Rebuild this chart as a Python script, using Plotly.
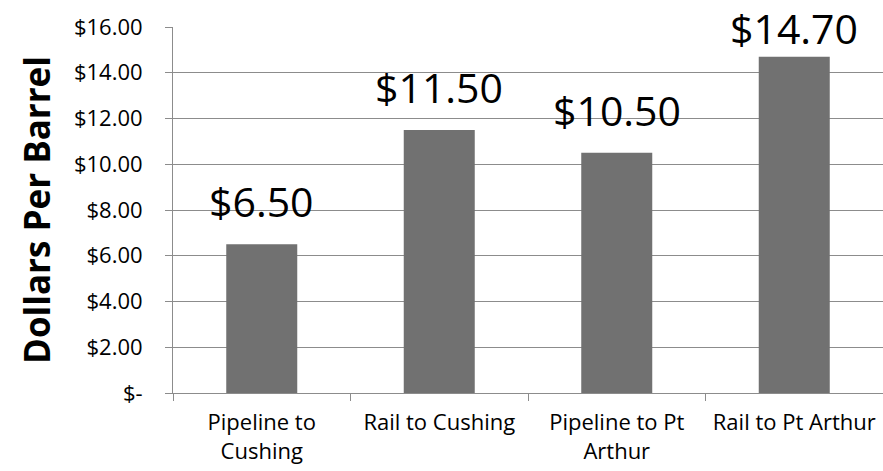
import plotly.graph_objects as go

categories = ["Pipeline to<br>Cushing", "Rail to Cushing", "Pipeline to Pt<br>Arthur", "Rail to Pt Arthur"]
values = [6.50, 11.50, 10.50, 14.70]
labels = ["$6.50", "$11.50", "$10.50", "$14.70"]
tick_vals = [0, 2, 4, 6, 8, 10, 12, 14, 16]
tick_text = ["$-", "$2.00", "$4.00", "$6.00", "$8.00", "$10.00", "$12.00", "$14.00", "$16.00"]

FONT = "Open Sans, Liberation Sans, sans-serif"
W, H = 883, 471
MT, MB = 27, 78
YMAX = 16
LABEL_SIZE = 41

fig = go.Figure(go.Bar(
    x=categories, y=values,
    marker=dict(color="#717171", line=dict(width=0)),
    width=0.4, hoverinfo="x+y",
))

# data labels placed above bars, kept inside the chart area (like Excel)
ppu = (H - MT - MB) / YMAX
box_h = LABEL_SIZE * 1.36
for cat, v, lab in zip(categories, values, labels):
    bar_top_px = MT + (YMAX - v) * ppu
    shift = min(13, bar_top_px - box_h - 2)
    fig.add_annotation(
        x=cat, y=v, text=lab, showarrow=False,
        xref="x", yref="y", yanchor="bottom", yshift=shift,
        font=dict(family=FONT, size=LABEL_SIZE, color="#000000"),
    )

fig.update_layout(
    width=W, height=H,
    margin=dict(l=173, r=0, t=MT, b=MB, autoexpand=False),
    paper_bgcolor="white", plot_bgcolor="white",
    showlegend=False,
    font=dict(family=FONT, color="#000000"),
)
fig.update_yaxes(
    range=[0, YMAX], tickvals=tick_vals, ticktext=tick_text,
    showgrid=True, gridcolor="#8c8c8c", gridwidth=1,
    showline=True, linecolor="#8c8c8c", linewidth=1,
    ticks="outside", ticklen=7, tickcolor="#8c8c8c",
    tickfont=dict(size=22), ticklabelstandoff=18,
    zeroline=False, automargin=False,
    title=dict(text="<b>Dollars Per Barrel</b>", font=dict(size=35), standoff=12),
)
fig.update_xaxes(
    showgrid=False, showline=True, linecolor="#8c8c8c", linewidth=1,
    ticks="outside", ticklen=7, tickcolor="#8c8c8c", tickson="boundaries",
    tickfont=dict(size=22), tickangle=0, ticklabelstandoff=10,
    automargin=False,
)

fig.write_html("out.html")
